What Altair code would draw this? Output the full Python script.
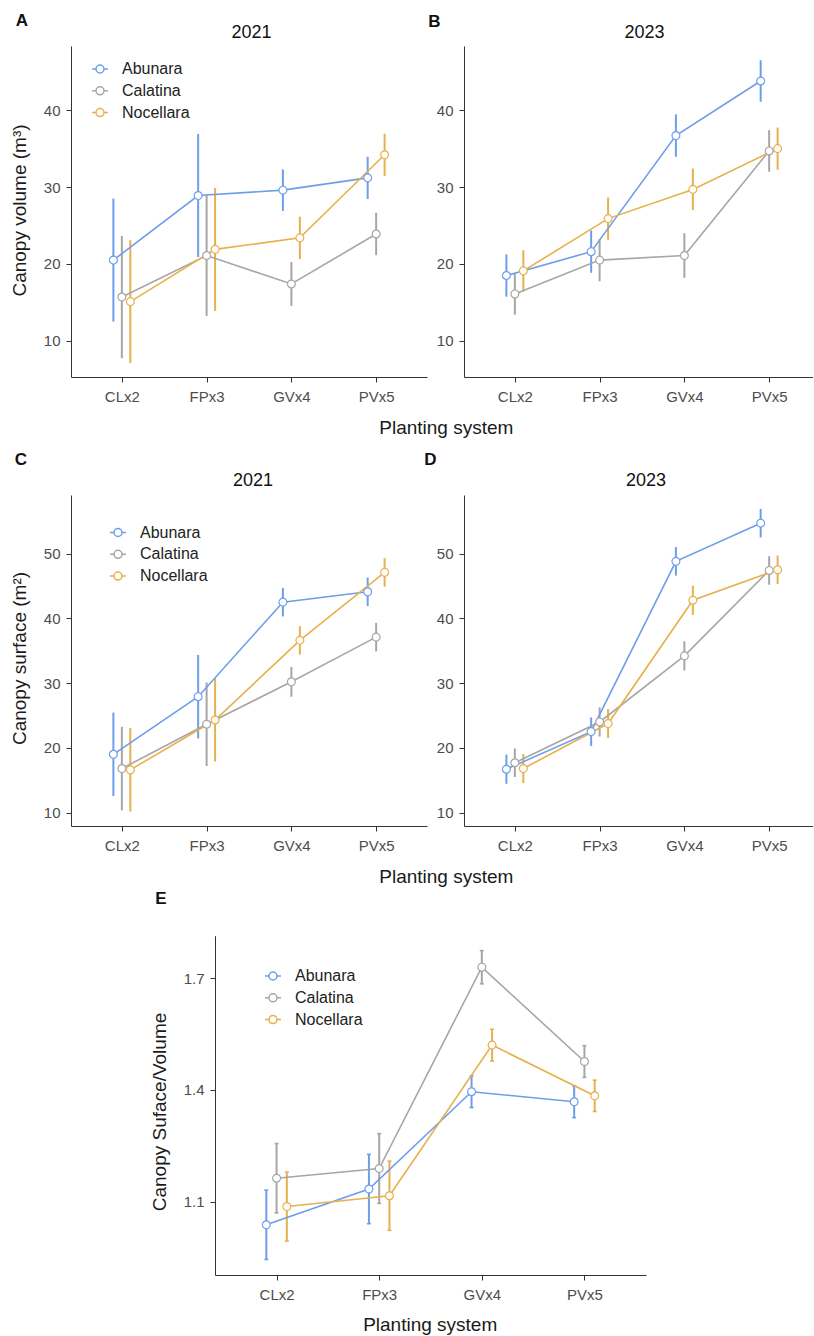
import altair as alt
import pandas as pd

# ---------------- data ----------------
systems = ["CLx2", "FPx3", "GVx4", "PVx5"]
cultivars = ["Abunara", "Calatina", "Nocellara"]
cultivar_colors = ["#6D9EEB", "#A6A6A6", "#E8B04C"]
dodge_offsets = [-0.1, 0.0, 0.1]
years = ["2021", "2023"]
panel_letters = ["A", "B", "C", "D", "E"]

# A: canopy volume 2021 (mean and half-width of error bar)
vol21_abunara = [20.5, 28.9, 29.6, 31.2]
vol21_abunara_err = [8.0, 8.0, 2.7, 2.75]
vol21_calatina = [15.7, 21.1, 17.4, 23.9]
vol21_calatina_err = [7.95, 7.85, 2.85, 2.75]
vol21_nocellara = [15.1, 21.9, 23.4, 34.2]
vol21_nocellara_err = [8.0, 8.0, 2.75, 2.75]

# B: canopy volume 2023
vol23_abunara = [18.5, 21.6, 36.7, 43.8]
vol23_abunara_err = [2.75, 2.75, 2.75, 2.7]
vol23_calatina = [16.1, 20.5, 21.1, 34.7]
vol23_calatina_err = [2.7, 2.75, 2.9, 2.7]
vol23_nocellara = [19.1, 25.9, 29.7, 35.0]
vol23_nocellara_err = [2.7, 2.75, 2.7, 2.75]

# C: canopy surface 2021
surf21_abunara = [19.0, 27.9, 42.5, 44.1]
surf21_abunara_err = [6.45, 6.45, 2.2, 2.2]
surf21_calatina = [16.8, 23.65, 30.2, 37.1]
surf21_calatina_err = [6.45, 6.45, 2.3, 2.2]
surf21_nocellara = [16.6, 24.3, 36.6, 47.1]
surf21_nocellara_err = [6.45, 6.4, 2.2, 2.2]

# D: canopy surface 2023
surf23_abunara = [16.7, 22.5, 48.8, 54.7]
surf23_abunara_err = [2.25, 2.2, 2.2, 2.2]
surf23_calatina = [17.7, 24.0, 34.2, 47.4]
surf23_calatina_err = [2.2, 2.25, 2.25, 2.2]
surf23_nocellara = [16.8, 23.75, 42.8, 47.5]
surf23_nocellara_err = [2.25, 2.25, 2.25, 2.2]

# E: canopy surface / volume
ratio_abunara = [1.038, 1.134, 1.395, 1.368]
ratio_abunara_err = [0.093, 0.093, 0.0425, 0.0425]
ratio_calatina = [1.163, 1.189, 1.729, 1.476]
ratio_calatina_err = [0.093, 0.0935, 0.0445, 0.0425]
ratio_nocellara = [1.087, 1.116, 1.520, 1.384]
ratio_nocellara_err = [0.0925, 0.093, 0.0425, 0.042]

vol_ticks = [10, 20, 30, 40]
surf_ticks = [10, 20, 30, 40, 50]
ratio_ticks = [1.1, 1.4, 1.7]

title_volume = "Canopy volume (m\u00b3)"
title_surface = "Canopy surface (m\u00b2)"
title_ratio = "Canopy Suface/Volume"
title_x = "Planting system"

# ---------------- helpers ----------------
FONT = "Liberation Sans"
SYMBOL = "M-1,0L-0.5,0M0.5,0L1,0M0.5,0A0.5,0.5,0,1,1,-0.5,0A0.5,0.5,0,1,1,0.5,0Z"
LABEL_EXPR = "[" + ",".join("'%s'" % s for s in systems) + "][round(datum.value) - 1]"
H = 331


def build_df(series):
    rows = []
    for ci, (means, errs) in enumerate(series):
        for si, s in enumerate(systems):
            m, e = means[si], errs[si]
            rows.append({"system": s, "cultivar": cultivars[ci], "mean": m,
                         "lo": m - e, "hi": m + e,
                         "pos": si + 1 + dodge_offsets[ci]})
    return pd.DataFrame(rows)


def annotation(text, x, y, size, weight):
    return alt.Chart(pd.DataFrame({"label": [text]})).mark_text(
        font=FONT, fontSize=size, fontWeight=weight, color="#111111",
        align="center", baseline="middle"
    ).encode(text="label:N", x=alt.value(x), y=alt.value(y))


def make_legend(lx, ly):
    return alt.Legend(orient="none", legendX=lx, legendY=ly, title=None,
                      symbolType=SYMBOL, symbolSize=256, symbolStrokeWidth=1.5,
                      symbolFillColor="white", symbolOpacity=1,
                      labelFont=FONT, labelFontSize=16, labelColor="#222222",
                      labelOffset=13, rowPadding=4.8, padding=0)


def panel(df, width, xdomain, ydomain, yticks, yformat, letter, letter_xy,
          legend=None, ytitle=None, ytitle_xy=(0, 0), xtitle=None, xtitle_xy=(0, 0),
          year=None, year_xy=(0, 0), xrange=None, yrange=None, yoffset=0, caps=False):
    xs = dict(domain=xdomain, nice=False, zero=False)
    if xrange is not None:
        xs["range"] = xrange
    ys = dict(domain=ydomain, nice=False, zero=False)
    if yrange is not None:
        ys["range"] = yrange
    xa = dict(values=[1, 2, 3, 4], labelExpr=LABEL_EXPR, grid=False,
              tickSize=5, labelPadding=7, title=xtitle)
    if xtitle is not None:
        xa.update(titleX=xtitle_xy[0], titleY=xtitle_xy[1], titleAlign="center",
                  titleBaseline="alphabetic")
    ya = dict(values=yticks, format=yformat, grid=False, tickSize=5,
              labelPadding=6, title=ytitle, offset=yoffset)
    if ytitle is not None:
        ya.update(titleX=ytitle_xy[0], titleY=ytitle_xy[1], titleAngle=270,
                  titleAlign="center", titleBaseline="middle")

    xscale = alt.Scale(**xs)
    yscale = alt.Scale(**ys)
    xenc = alt.X("pos:Q", scale=xscale, axis=alt.Axis(**xa))

    def yenc(field):
        return alt.Y(field + ":Q", scale=yscale, axis=alt.Axis(**ya))

    stroke = alt.Stroke("cultivar:N",
                        scale=alt.Scale(domain=cultivars, range=cultivar_colors),
                        legend=legend)
    base = alt.Chart(df)
    layers = [
        base.mark_rule(strokeWidth=2).encode(x=xenc, y=yenc("lo"), y2="hi:Q", stroke=stroke),
    ]
    if caps:
        for f in ("lo", "hi"):
            layers.append(base.mark_point(shape="stroke", size=16, strokeWidth=1.6, opacity=1)
                          .encode(x=xenc, y=yenc(f), stroke=stroke))
    layers.append(base.mark_line(strokeWidth=1.6).encode(x=xenc, y=yenc("mean"), stroke=stroke))
    layers.append(base.mark_point(filled=True, fill="white", size=62, strokeWidth=1.2, opacity=1)
                  .encode(x=xenc, y=yenc("mean"), stroke=stroke))
    layers.append(annotation(letter, letter_xy[0], letter_xy[1], 17, "bold"))
    if year is not None:
        layers.append(annotation(year, year_xy[0], year_xy[1], 18, "normal"))
    return alt.layer(*layers).properties(width=width, height=H)


# ---------------- panels ----------------
W = 356
W_RIGHT = 349
XDOM = [0.4, 4.6]
XDOM_RIGHT = [0.4, 0.4 + 4.2 * W_RIGHT / W]

dfA = build_df([(vol21_abunara, vol21_abunara_err), (vol21_calatina, vol21_calatina_err),
                (vol21_nocellara, vol21_nocellara_err)])
dfB = build_df([(vol23_abunara, vol23_abunara_err), (vol23_calatina, vol23_calatina_err),
                (vol23_nocellara, vol23_nocellara_err)])
dfC = build_df([(surf21_abunara, surf21_abunara_err), (surf21_calatina, surf21_calatina_err),
                (surf21_nocellara, surf21_nocellara_err)])
dfD = build_df([(surf23_abunara, surf23_abunara_err), (surf23_calatina, surf23_calatina_err),
                (surf23_nocellara, surf23_nocellara_err)])
dfE = build_df([(ratio_abunara, ratio_abunara_err), (ratio_calatina, ratio_calatina_err),
                (ratio_nocellara, ratio_nocellara_err)])

A = panel(dfA, W, XDOM, [5.3, 48.35], vol_ticks, "d", panel_letters[0], (-49, -25),
          legend=make_legend(20, 14), ytitle=title_volume, ytitle_xy=(-52, 164),
          xtitle=title_x, xtitle_xy=(374.8, 56), year=years[0], year_xy=(180.5, -13))
B = panel(dfB, W_RIGHT, XDOM_RIGHT, [5.3, 48.35], vol_ticks, "d", panel_letters[1], (-29.5, -24),
          year=years[1], year_xy=(180.5, -13))
C = panel(dfC, W, XDOM, [7.93, 59.05], surf_ticks, "d", panel_letters[2], (-50, -35),
          legend=make_legend(38, 28.5), ytitle=title_surface, ytitle_xy=(-52, 163),
          xtitle=title_x, xtitle_xy=(374.8, 56), year=years[0], year_xy=(182, -14))
D = panel(dfD, W_RIGHT, XDOM_RIGHT, [7.93, 59.05], surf_ticks, "d", panel_letters[3], (-33.5, -35),
          year=years[1], year_xy=(182, -14))
E = panel(dfE, W, XDOM, [0.9034, 1.8135], ratio_ticks, ".1f", panel_letters[4], (90, -45),
          legend=make_legend(193, 23), ytitle=title_ratio, ytitle_xy=(-55.7, 167.5),
          xtitle=title_x, xtitle_xy=(358.7, 55.5), xrange=[144, 575], yrange=[331, -8.3],
          yoffset=-144, caps=True)

chart = alt.concat(
    A, B, C, D, E, columns=2, spacing={"row": 118, "column": 37}, bounds="flush"
).resolve_legend(stroke="independent").properties(
    padding={"left": 10, "top": 12, "right": 0, "bottom": 0}
).configure_axis(
    labelFont=FONT, labelFontSize=15, labelColor="#4D4D4D",
    titleFont=FONT, titleFontSize=19, titleFontWeight="normal", titleColor="#1A1A1A",
    domainColor="#333333", tickColor="#333333", domainWidth=1, tickWidth=1
).configure_view(stroke=None)

chart.save("out.html", embed_options={"renderer": "svg", "actions": False})
